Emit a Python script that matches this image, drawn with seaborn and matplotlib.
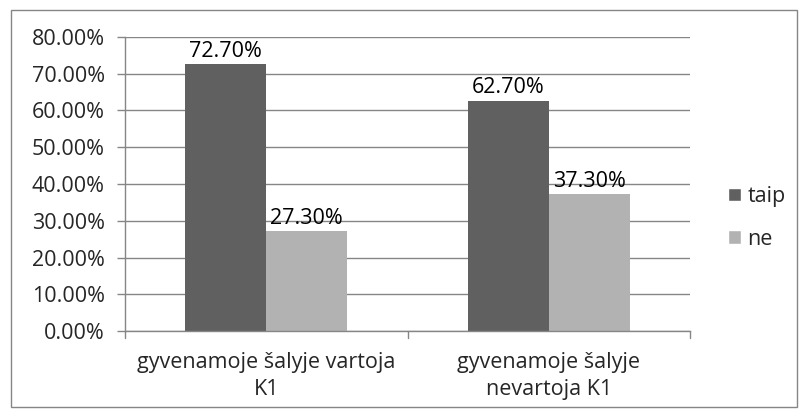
import matplotlib
matplotlib.use("Agg")
import matplotlib.pyplot as plt
import seaborn as sns
import pandas as pd
from matplotlib.patches import Rectangle, Patch

categories = ["gyvenamoje šalyje vartoja\nK1", "gyvenamoje šalyje\nnevartoja K1"]
series = ["taip", "ne"]
taip_vals = [72.7, 62.7]
ne_vals = [27.3, 37.3]
y_ticks = [0, 10, 20, 30, 40, 50, 60, 70, 80]

df = pd.DataFrame({
    "cat": categories * 2,
    "series": [series[0]] * 2 + [series[1]] * 2,
    "val": taip_vals + ne_vals,
})

sns.set_style("white")
plt.rcParams["font.family"] = ["Open Sans", "DejaVu Sans"]
FS = 15.5

fig = plt.figure(figsize=(8.07, 4.19), dpi=100)
ax = fig.add_axes([125 / 807, 1 - 331 / 419, (690 - 125) / 807, (331 - 37) / 419])

palette = {"taip": "#606060", "ne": "#b2b2b2"}
sns.barplot(data=df, x="cat", y="val", hue="series", hue_order=series,
            order=categories, palette=palette, width=0.574, ax=ax,
            saturation=1, errorbar=None, legend=False, linewidth=0)

for cont in ax.containers:
    ax.bar_label(cont, labels=[f"{v:.2f}%" for v in cont.datavalues],
                 fontsize=FS, padding=1.5, color="#000000")

ax.set_ylim(0, 80)
ax.set_xlim(-0.5, 1.5)
ax.set_yticks(y_ticks)
ax.set_yticklabels([f"{t:.2f}%" for t in y_ticks], fontsize=FS)
ax.set_xticks([0, 1])
ax.set_xticklabels(categories, fontsize=FS, linespacing=1.36)
ax.tick_params(axis="x", length=0, pad=15)
ax.tick_params(axis="y", length=5.5, color="#868686", width=1, pad=9, left=True)
for xb in [-0.5, 0.5, 1.5]:
    ax.plot([xb, xb], [0, -1.9], color="#868686", lw=1, clip_on=False)
ax.set_xlabel("")
ax.set_ylabel("")
ax.grid(axis="y", color="#868686", lw=1)
ax.set_axisbelow(True)
for s in ["top", "right"]:
    ax.spines[s].set_visible(False)
for s in ["left", "bottom"]:
    ax.spines[s].set_color("#868686")
    ax.spines[s].set_linewidth(1)

handles = [Patch(facecolor=palette[s], label=s) for s in series]
fig.legend(handles=handles, loc="center left", bbox_to_anchor=(717 / 807, 1 - 218 / 419),
           frameon=False, fontsize=FS, handlelength=0.6, handleheight=0.6,
           handletextpad=0.3, labelspacing=1.0, borderpad=0)

fig.patches.append(Rectangle((11 / 807, 1 - 407 / 419), (797 - 11) / 807, (407 - 10) / 419,
                             transform=fig.transFigure, fill=False, edgecolor="#868686", lw=1))

fig.savefig("out.png", dpi=100)
